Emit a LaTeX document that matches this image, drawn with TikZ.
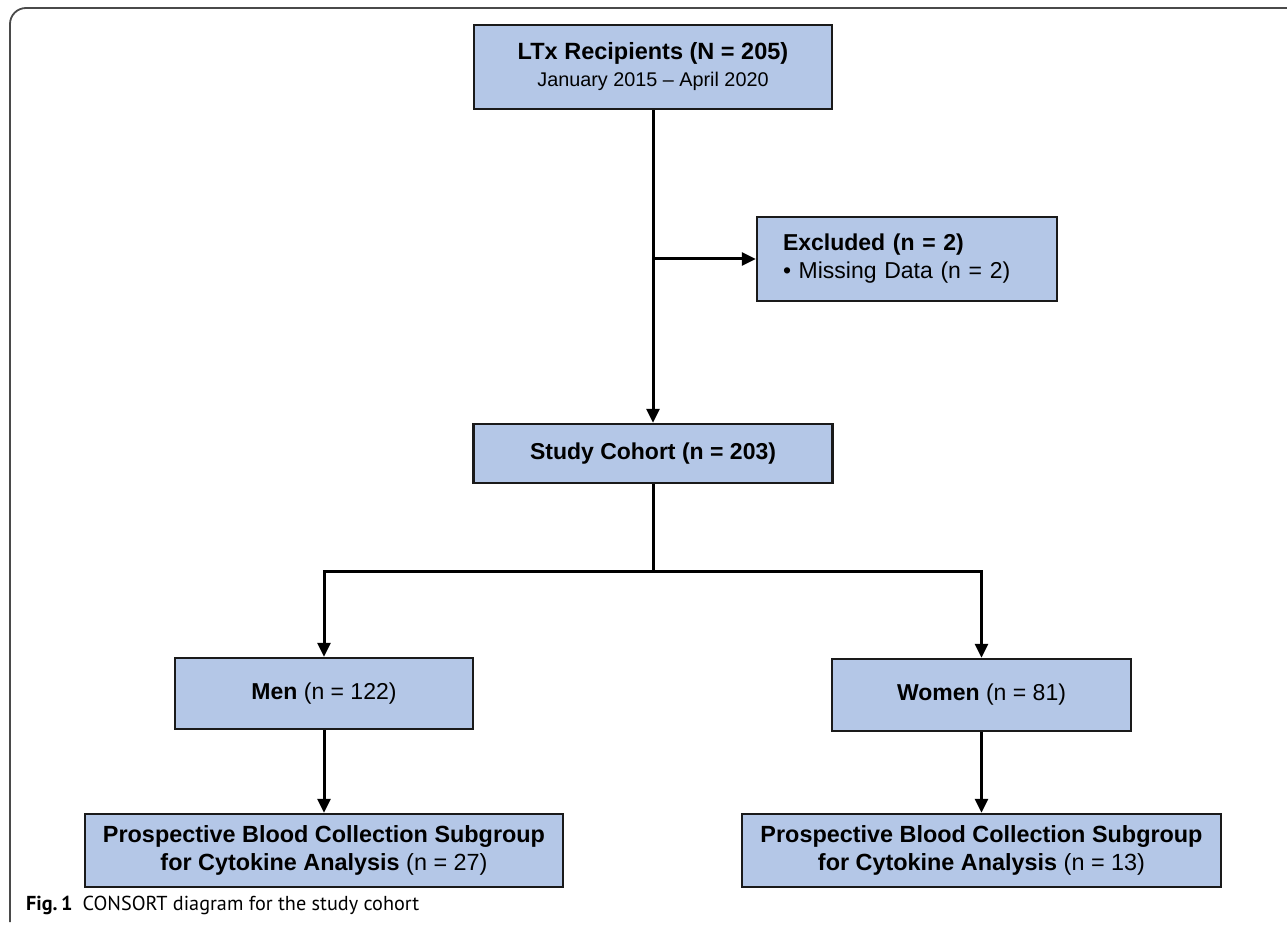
\documentclass[tikz,border=0pt]{standalone}
\usepackage{fontspec}
\setmainfont{Liberation Sans}
\newfontfamily\capfont{PT Sans}
\usetikzlibrary{arrows.meta}
\definecolor{boxfill}{HTML}{B4C7E7}
\definecolor{boxline}{HTML}{1A1A1A}
\definecolor{framecol}{HTML}{4A4A4A}
\tikzset{
  flowbox/.style={draw=boxline, fill=boxfill, line width=2.5pt, inner sep=0pt, align=center, font=\fontsize{23}{28}\selectfont},
  conn/.style={line width=3pt, draw=black},
  arr/.style={conn, -{Triangle[length=14pt,width=13pt]}}
}
\begin{document}
\begin{tikzpicture}[x=1pt,y=-1pt]
\useasboundingbox (0,0) rectangle (1287,925);
\fill[white] (0,0) rectangle (1287,925);
\draw[framecol, line width=1.8pt, rounded corners=16pt] (10,922) -- (10,8) -- (1290,8);

\node[flowbox, minimum width=358pt, minimum height=84pt] (ltx) at (653,67)
  {{\fontsize{23.5}{29}\selectfont\bfseries LTx Recipients (N = 205)}\\[-1pt]{\fontsize{19.8}{24}\selectfont January 2015 -- April 2020}};
\node[flowbox, minimum width=300pt, minimum height=84pt, text width=248pt, inner xsep=26pt, align=left] (exc) at (907,259)
  {{\bfseries Excluded (n = 2)}\\ \textbullet{} Missing Data (n = 2)};
\node[flowbox, minimum width=359pt, minimum height=59pt] (study) at (653,453.5)
  {\bfseries Study Cohort (n = 203)};
\node[flowbox, minimum width=298pt, minimum height=71pt] (men) at (324,693.5)
  {{\bfseries Men} (n = 122)};
\node[flowbox, minimum width=299pt, minimum height=72pt] (women) at (981.5,695)
  {{\bfseries Women} (n = 81)};
\node[flowbox, minimum width=478pt, minimum height=73pt, font=\fontsize{23.4}{28}\selectfont] (sub1) at (324,850.5)
  {\bfseries Prospective Blood Collection Subgroup\\{\bfseries for Cytokine Analysis} (n = 27)};
\node[flowbox, minimum width=479pt, minimum height=73pt, font=\fontsize{23.4}{28}\selectfont] (sub2) at (981.5,850.5)
  {\bfseries Prospective Blood Collection Subgroup\\{\bfseries for Cytokine Analysis} (n = 13)};

\coordinate (branch) at (ltx.south |- exc.west);
\coordinate (split) at (653,571);
\draw[arr] (ltx.south) -- (study.north);
\draw[arr] (branch) -- (exc.west);
\draw[conn] (study.south) -- (split);
\draw[arr] (split) -| (men.north);
\draw[arr] (split) -| (women.north);
\draw[arr] (men.south) -- (sub1.north);
\draw[arr] (women.south) -- (sub2.north);

\node[anchor=west, inner sep=0pt, font=\capfont\fontsize{20.2}{24}\selectfont] (cap) at (26,905)
  {{\bfseries Fig.\,1}\enspace CONSORT diagram for the study cohort};
\end{tikzpicture}
\end{document}
